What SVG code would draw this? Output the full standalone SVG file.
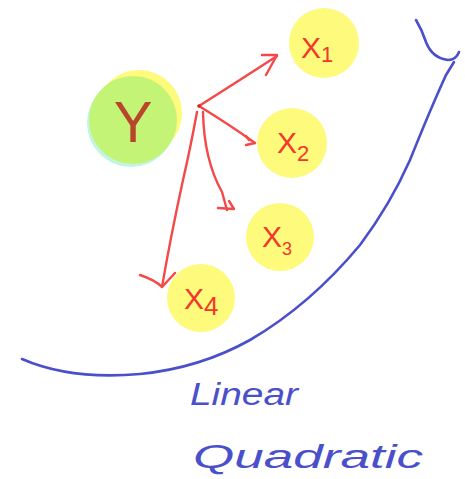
<svg xmlns="http://www.w3.org/2000/svg" width="465" height="479" viewBox="0 0 465 479">
<defs>
<style>
.node{fill:#fdfa7c}
.lbl{font-family:"Liberation Sans",sans-serif;fill:#f2382c;font-weight:normal}
.sub{font-size:18px}
.red{fill:none;stroke:#f54848;stroke-width:2.4;stroke-linecap:round;stroke-linejoin:round}
.blue{fill:none;stroke:#4a4fca;stroke-width:2.6;stroke-linecap:round;stroke-linejoin:round}
.hand{font-family:"Liberation Sans",sans-serif;fill:#4a4fca;font-style:italic}
</style>
</defs>
<rect width="465" height="479" fill="#ffffff"/>
<g id="node-Y">
<circle cx="131" cy="123" r="44" fill="#c2f6e0"/>
<circle cx="139" cy="113" r="43" fill="#fdfa7c"/>
<circle cx="133" cy="120" r="44" fill="#c4f476"/>
<text x="133" y="142" text-anchor="middle" class="lbl" style="font-size:58px;fill:#b8452c">Y</text>
</g>
<g id="node-X1">
<circle class="node" cx="324" cy="43" r="35"/>
<text x="301" y="58" class="lbl" style="font-size:30px">X<tspan class="sub" dy="4" style="font-size:22px">1</tspan></text>
</g>
<g id="node-X2">
<circle class="node" cx="292" cy="143" r="35"/>
<text x="277" y="153" class="lbl" style="font-size:30px">X<tspan class="sub" dy="8" style="font-size:22px">2</tspan></text>
</g>
<g id="node-X3">
<circle class="node" cx="280" cy="237" r="34"/>
<text x="262" y="247" class="lbl" style="font-size:30px">X<tspan class="sub" dy="8">3</tspan></text>
</g>
<g id="node-X4">
<circle class="node" cx="201" cy="298" r="34"/>
<text x="184" y="309" class="lbl" style="font-size:30px">X<tspan class="sub" dy="6" style="font-size:26px">4</tspan></text>
</g>
<g id="connectors">
<path class="red" d="M199,106 Q240,80 277,56"/>
<path class="red" d="M262,55 L277,55 L266,75"/>
<path class="red" d="M199,106 Q230,125 255,143"/>
<path class="red" d="M246,136 L249,140 M246,145 L255,143"/>
<path class="red" d="M203,112 Q204,160 222,192 L227,210"/>
<path class="red" d="M218,208 L234,209 L229,201"/>
<path class="red" d="M197,112 Q190,150 183,180 Q170,240 162,287"/>
<path class="red" d="M140,275 Q155,280 162,287 L175,273"/>
<circle cx="199" cy="106" r="1.8" fill="#e02020"/>
</g>
<g id="curve">
<path class="blue" d="M22,359 Q70,380 140,374 Q200,368 250,340 Q310,305 360,245 Q390,205 410,160 Q430,110 446,75 L454,62"/>
<path class="blue" d="M416,20 Q422,30 426,42 Q432,58 448,60 Q456,60 459,52"/>
</g>
<g id="labels">
<text x="190" y="405" class="hand" style="font-size:31px" textLength="108" lengthAdjust="spacingAndGlyphs">Linear</text>
<text x="193" y="468" class="hand" style="font-size:34px" textLength="230" lengthAdjust="spacingAndGlyphs">Quadratic</text>
</g>
</svg>
